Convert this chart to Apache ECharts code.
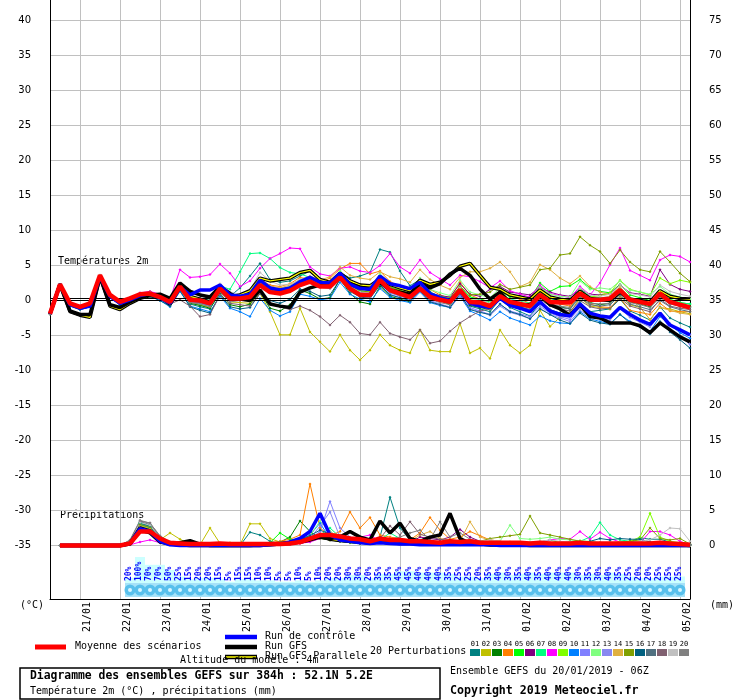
<!DOCTYPE html>
<html>
<head>
<meta charset="utf-8">
<title>GEFS 52.1N 5.2E</title>
<script src="https://cdn.jsdelivr.net/npm/echarts@6/dist/echarts.min.js"></script>
<style>
html, body { margin: 0; padding: 0; background: #fff; }
#chart { width: 740px; height: 700px; }
</style>
</head>
<body>
<div id="chart"></div>
<script>
// 6-hourly steps from 20/01 06Z to 05/02 06Z (65 steps), day labels at 00Z
var dayLabels = ['21/01','22/01','23/01','24/01','25/01','26/01','27/01','28/01','29/01','30/01','31/01','01/02','02/02','03/02','04/02','05/02'];

// temperature 2m (°C)
var tMean = [-1.9,2.3,-0.4,-0.9,-0.4,3.6,0.8,-0.2,0.3, 0.9,1.0,0.5,-0.2,2.0,0.1,0.0,-0.4,1.7,0.3,0.3,0.5, 2.2,1.2,1.0,1.4,2.2,2.7,2.0,2.0,3.3,1.7,0.8,0.8, 2.9,1.5,1.0,0.5,1.7,0.5,0.1,-0.2,1.5,-0.2,-0.3,-0.8, 0.6,-0.2,-0.5,-0.8,0.8,-0.2,-0.3,-0.3,1.0,0.1, 0.1,0.3,1.5,0.1,-0.2,-0.5,1.0,-0.2,-0.6,-1.0];
var tCtrl = [-1.9,2.3,-0.6,-1.1,-0.8,3.4,0.6,-0.4,0.1, 0.7,1.0,0.4,-0.4,1.9,0.8,1.5,1.5,2.2,0.8,0.6,0.9, 2.9,1.8,1.5,1.8,2.7,3.3,2.6,2.5,3.9,2.3,1.7,1.6, 3.5,2.4,2.1,1.7,2.6,1.0,0.4,0.0,1.4,-0.4,-0.8,-1.0, 0.3,-0.7,-1.1,-1.6,-0.2,-1.5,-2.0,-2.2,-0.5,-1.8, -2.2,-2.4,-1.0,-2.0,-2.8,-3.4,-1.8,-3.5,-4.2,-4.9];
var tGfs = [-1.9,2.3,-1.5,-2.0,-2.0,3.4,-0.6,-1.0,-0.2, 0.4,0.8,0.9,0.3,2.5,1.3,0.8,0.5,2.0,1.0,0.2,0.0, 1.5,-0.5,-0.8,-1.0,1.2,1.8,2.2,2.3,3.6,2.4,1.9,1.6, 2.6,1.5,1.2,0.9,2.5,1.8,2.4,3.8,4.6,3.6,1.6,0.2, 1.2,-0.3,-0.6,-0.6,0.8,-0.6,-1.2,-2.1,-0.6,-2.3, -2.5,-3.2,-3.2,-3.2,-3.6,-4.6,-3.2,-4.2,-5.2,-5.9];
var tGfsPara = [-1.9,2.3,-1.6,-2.1,-2.4,3.4,-0.8,-1.3,-0.4, 0.3,0.7,0.6,-0.5,2.0,0.6,0.2,-0.2,1.8,0.5,0.8,1.4, 3.2,2.8,3.0,3.2,4.0,4.3,3.0,2.6,3.9,2.8,2.2,2.1, 3.1,2.3,1.8,1.4,2.9,2.3,2.6,3.6,4.9,5.3,3.6,1.9, 1.6,0.8,0.5,0.2,1.5,0.5,0.2,0.0,1.3,0.3, 0.1,0.0,1.2,0.2,0.0,-0.2,1.4,0.6,0.3,0.2];

var t01 = [-1.9,2.3,-0.6,-1.1,-0.6,3.4,0.6,-0.4,0.2, 0.8,1.2,0.6,-0.5,1.6,-0.5,-0.9,-1.2,1.2,0.6,1.8,3.5, 5.3,3.0,2.6,2.8,3.5,4.2,3.1,2.5,4.0,3.2,3.5,4.0, 7.3,6.9,4.2,2.1,3.0,1.2,0.3,-0.4,1.2,-0.8,-1.2,-1.6, 0.2,-1.0,-1.6,-2.2,-0.4,-1.3,-1.8,-2.2,-0.3,-1.6, -1.4,-1.2,0.2,-1.5,-2.1,-2.8,-0.9,-2.5,-3.2,-3.8];
var t02 = [-1.9,2.3,-0.5,-1.0,-0.5,3.5,0.7,-0.3,0.2, 0.7,0.9,0.4,-0.6,1.5,-0.3,-0.6,-1.0,1.3,-0.2,-0.3,-0.4, 1.0,-1.6,-4.9,-4.9,-1.1,-4.5,-5.9,-7.3,-4.9,-7.1,-8.5,-7.1, -4.9,-6.4,-7.1,-7.5,-4.2,-7.1,-7.3,-7.3,-3.3,-7.5,-6.8,-8.3, -4.2,-6.4,-7.5,-6.4,-1.4,-3.7,-2.4,-1.8,0.4,-0.8, -1.0,-1.2,0.6,-0.6,-1.0,-2.7,-1.0,-1.2,-1.6,-1.9];
var t03 = [-1.9,2.3,-0.7,-1.2,-0.8,3.3,0.5,-0.5,0.1, 0.6,0.9,0.2,-0.7,1.8,-0.4,-0.7,-1.1,1.0,-0.6,-0.9,-0.5, 1.2,-1.1,-1.5,-0.6,1.5,1.0,0.2,0.4,3.1,1.0,-0.2,-0.5, 2.0,0.6,0.2,-0.2,1.9,0.4,0.0,-0.6,1.2,-0.7,-1.0,-1.3, 0.3,-0.8,-1.2,-1.5,0.5,-0.6,-0.9,-1.2,0.8,-0.3, -0.6,-0.4,1.0,-0.2,-0.5,-0.9,0.6,-0.4,-0.8,-0.9];
var t04 = [-1.9,2.3,-0.5,-1.0,-0.6,3.5,0.7,-0.3,0.3, 0.9,1.3,0.6,-0.3,2.2,0.3,0.1,-0.3,2.1,0.5,0.6,0.8, 3.0,2.2,2.0,2.4,3.3,3.0,2.6,3.2,4.5,5.3,5.3,3.8, 4.2,2.7,2.0,1.2,3.0,1.6,0.8,0.3,2.6,0.8,0.2,-0.2, 1.5,0.6,0.2,-0.4,1.2,0.0,-0.5,-0.8,0.7,-0.5, -0.9,-1.0,0.3,-1.4,-1.7,-2.0,-0.4,-1.5,-1.6,-1.6];
var t05 = [-1.9,2.3,-0.6,-1.1,-0.7,3.4,0.5,-0.3,0.2, 0.8,1.1,0.4,-0.5,2.0,-0.2,-0.5,-0.8,1.5,0.2,0.5,0.8, 2.8,1.8,1.4,1.8,2.9,3.3,2.6,2.4,4.0,2.3,1.6,1.5, 3.6,2.4,1.8,1.2,2.6,1.2,0.6,0.2,2.0,0.5,0.2,-0.2, 1.4,0.5,0.6,0.3,2.5,1.3,2.0,2.1,3.0,1.8, 1.3,1.1,2.3,0.8,0.4,0.0,1.4,0.2,-0.3,-0.5];
var t06 = [-1.9,2.3,-0.4,-0.9,-0.5,3.6,0.8,-0.2,0.3, 1.0,1.2,0.8,0.1,2.3,0.5,0.3,-0.1,1.9,0.6,0.5,0.7, 2.5,1.6,1.3,1.6,2.5,2.9,2.3,2.1,3.5,1.9,1.2,1.0, 3.0,1.8,1.2,0.8,2.0,1.0,0.7,0.5,2.4,0.9,0.6,1.6, 2.0,1.2,1.0,0.8,1.9,1.2,0.8,0.6,1.6,0.9, 0.8,1.0,2.2,1.1,0.9,0.6,4.4,2.3,1.6,1.3];
var t07 = [-1.9,2.3,-0.5,-1.0,-0.5,3.5,0.8,-0.1,0.3, 0.9,1.2,0.7,0.0,2.2,0.4,0.3,0.0,2.1,1.6,4.1,6.7, 6.8,6.0,4.7,4.0,3.8,3.3,2.5,2.3,3.6,2.0,1.3,1.2, 3.2,1.9,1.4,0.9,2.7,1.1,0.6,0.3,1.9,0.4,0.1,-0.3, 1.1,0.2,-0.1,-0.4,1.4,0.3,0.0,-0.2,1.6,0.6, 0.4,0.5,1.8,0.4,0.1,-0.2,1.3,0.1,-0.3,-0.5];
var t08 = [-1.9,2.3,-0.4,-0.8,-0.4,3.6,0.9,-0.1,0.4, 1.1,1.3,0.9,0.2,4.4,3.3,3.4,3.7,5.2,3.9,2.0,2.8, 4.6,6.0,6.7,7.5,7.4,4.8,3.8,3.5,4.6,4.8,4.2,4.0, 5.0,6.7,4.8,3.9,5.8,4.0,3.1,2.2,3.6,3.4,2.7,1.8, 2.8,1.4,0.9,0.5,2.2,1.0,0.7,0.4,2.0,0.8, 2.5,5.1,7.5,4.3,3.6,2.9,5.8,6.5,6.3,5.5];
var t09 = [-1.9,2.3,-0.6,-1.1,-0.6,3.4,0.6,-0.3,0.2, 0.7,1.0,0.5,-0.4,1.9,0.1,-0.1,-0.5,1.7,0.2,0.3,0.6, 2.6,1.7,1.5,1.9,2.7,3.2,2.5,2.3,3.9,2.1,1.4,1.3, 3.4,2.0,1.5,1.0,2.4,0.9,0.4,0.0,1.7,0.2,-0.2,-0.5, 1.0,0.0,-0.3,-0.6,1.2,0.1,-0.2,-0.3,1.5,0.5, 0.7,1.1,2.9,1.6,1.2,0.8,3.2,2.4,2.9,2.6];
var t10 = [-1.9,2.3,-0.7,-1.3,-0.9,3.2,0.4,-0.6,0.0, 0.5,0.6,0.0,-0.9,1.3,-0.8,-1.2,-1.6,0.6,-1.1,-1.6,-2.3, 0.3,-1.4,-2.2,-1.6,0.9,0.6,0.1,0.3,2.6,0.9,0.2,-0.2, 1.7,0.5,0.0,-0.3,1.2,-0.3,-0.7,-1.0,0.6,-1.5,-2.1,-2.8, -1.6,-2.5,-3.0,-3.5,-2.2,-2.9,-3.2,-3.3,-1.6,-2.6, -3.0,-3.3,-2.0,-3.0,-3.6,-4.4,-2.3,-3.5,-4.6,-5.4];
var t11 = [-1.9,2.3,-0.6,-1.0,-0.6,3.5,0.6,-0.4,0.1, 0.6,0.8,0.3,-0.5,1.6,-0.2,-0.4,-0.8,1.3,0.1,0.4,0.9, 2.9,2.0,1.6,1.8,2.6,3.0,2.2,2.0,3.4,1.6,0.8,0.5, 2.5,1.1,0.6,0.2,1.5,0.0,-0.5,-0.9,0.8,-1.0,-1.5,-2.0, -0.6,-1.5,-1.9,-2.3,-0.8,-1.8,-2.3,-2.7,-1.0,-2.0, -2.4,-2.6,-1.0,-2.2,-2.8,-3.5,-1.8,-4.1,-5.0,-6.3];
var t12 = [-1.9,2.3,-0.5,-0.9,-0.5,3.6,0.7,-0.2,0.3, 1.0,1.1,0.6,-0.2,2.1,0.2,0.0,-0.3,1.8,0.4,0.5,0.9, 3.0,1.9,1.7,2.0,2.8,3.3,2.7,2.6,4.3,2.5,1.8,1.6, 3.8,2.4,1.9,1.3,3.2,1.6,1.1,0.7,2.9,1.2,0.8,0.4, 1.8,0.8,0.6,0.2,1.9,0.9,0.6,0.5,2.8,1.6, 1.8,1.6,2.8,1.5,1.2,0.9,2.0,0.9,0.5,0.2];
var t13 = [-1.9,2.3,-0.7,-1.2,-0.7,3.3,0.5,-0.5,0.1, 0.6,0.8,0.2,-0.6,1.7,-0.2,-0.4,-0.7,1.4,0.0,0.2,0.5, 2.4,1.4,1.1,1.5,2.3,2.8,2.0,1.8,3.2,1.4,0.6,0.4, 2.3,0.9,0.4,0.0,1.3,-0.1,-0.6,-1.0,0.6,-1.2,-1.6,-2.1, -0.8,-1.7,-2.1,-2.6,-1.1,-2.0,-2.5,-3.0,-1.4,-2.3, -2.6,-2.8,-1.2,-2.4,-3.1,-3.8,-2.0,-3.3,-4.3,-4.9];
var t14 = [-1.9,2.3,-0.5,-1.0,-0.5,3.5,0.7,-0.2,0.3, 0.9,1.1,0.6,-0.2,2.1,0.2,0.1,-0.2,1.9,0.5,0.6,1.0, 3.1,2.1,1.8,2.2,3.0,3.5,2.9,3.4,4.8,3.6,3.2,3.0, 4.1,3.4,3.1,2.6,4.4,3.0,2.2,1.6,3.3,4.1,4.1,4.6, 5.5,4.1,2.0,2.6,5.1,4.4,3.2,2.4,3.5,2.0, 1.2,0.8,1.9,0.3,-1.0,-2.7,-1.0,-1.4,-1.8,-2.0];
var t15 = [-1.9,2.3,-0.5,-1.0,-0.6,3.5,0.6,-0.3,0.2, 0.8,1.0,0.5,-0.3,1.9,0.1,-0.1,-0.4,1.7,0.3,0.4,0.7, 2.7,1.8,1.5,1.9,2.8,3.2,2.5,2.3,3.8,2.1,1.4,1.2, 3.3,1.9,1.4,0.9,2.3,1.0,0.6,0.3,2.0,0.8,0.9,1.2, 2.3,1.6,1.9,2.2,4.4,4.6,6.5,6.7,9.1,7.9, 7.0,5.3,7.2,5.5,4.4,4.1,7.0,5.5,3.9,2.7];
var t16 = [-1.9,2.3,-0.8,-1.3,-0.9,3.2,0.4,-0.6,-0.1, 0.4,0.6,0.0,-0.8,1.4,-0.9,-1.4,-1.8,0.8,-0.9,-1.2,-1.0, 1.0,0.0,-0.4,0.2,1.6,1.3,0.6,0.8,3.0,1.3,0.5,0.3, 2.2,0.8,0.4,0.0,1.4,-0.2,-0.6,-1.0,0.9,-1.3,-1.7,-2.0, -0.5,-1.6,-2.0,-2.6,-1.2,-2.0,-2.8,-3.3,-1.8,-2.8, -3.2,-3.4,-2.0,-3.2,-3.8,-4.8,-3.0,-4.5,-5.6,-6.8];
var t17 = [-1.9,2.3,-0.6,-1.1,-0.7,3.4,0.6,-0.4,0.2, 0.7,0.9,0.4,-0.4,1.8,-0.1,-0.3,-0.7,1.5,0.0,0.2,0.4, 2.5,1.5,1.2,1.6,2.4,2.9,2.2,2.0,3.4,1.7,1.0,0.9, 2.9,1.5,1.0,0.6,1.8,0.4,-0.1,-0.4,1.2,-0.3,-0.7,-1.1, 0.3,-0.6,-0.9,-1.3,0.2,-0.7,-1.0,-1.2,0.4,-0.6, -0.8,-0.6,0.7,-0.5,-0.9,-1.3,0.0,-0.9,-1.3,-1.6];
var t18 = [-1.9,2.3,-0.6,-1.1,-0.6,3.4,0.6,-0.4,0.2, 0.7,0.8,0.3,-0.5,0.1,-0.8,-2.3,-2.0,0.8,-0.4,-0.6,-0.8, 1.0,-0.3,-0.9,-1.3,-0.8,-1.4,-2.3,-3.5,-2.1,-3.1,-4.7,-4.9, -3.1,-4.7,-5.2,-5.6,-4.2,-6.1,-5.8,-4.4,-3.2,-2.3,-1.5,-1.2, 0.4,-0.6,-1.0,-1.3,0.2,-0.8,-1.2,-1.5,0.0,-0.9, -1.2,-1.1,0.3,-0.8,-1.2,-1.6,0.2,-0.8,-1.1,-1.3];
var t19 = [-1.9,2.3,-0.5,-1.0,-0.5,3.5,0.7,-0.2,0.3, 0.9,1.0,0.5,-0.3,2.0,1.5,1.0,0.4,2.4,1.2,0.9,1.5, 4.0,2.8,2.2,2.3,3.0,3.4,2.6,2.4,3.7,2.0,1.2,1.1, 3.0,1.7,1.2,0.8,2.2,0.8,0.4,0.1,1.8,0.3,0.0,-0.3, 1.0,0.1,-0.2,-0.5,1.3,0.4,0.2,0.0,1.8,0.8, 0.6,0.9,2.2,1.0,0.8,0.5,2.2,1.3,0.9,0.6];
var t20 = [-1.9,2.3,-0.6,-1.0,-0.6,3.4,0.6,-0.3,0.2, 0.7,0.8,0.3,-0.5,1.6,-0.3,-0.5,-0.9,1.2,-0.2,0.0,0.3, 2.3,1.3,1.0,1.4,2.2,2.6,1.9,1.7,3.1,1.4,0.6,0.5, 2.6,1.2,0.7,0.3,1.6,0.2,-0.3,-0.6,1.0,-0.5,-0.8,-1.2, 0.2,-0.6,-0.8,-1.1,0.4,-0.5,-0.8,-1.0,0.6,-0.4, -0.5,-0.4,0.9,-0.3,-0.6,-1.0,0.4,-0.5,-0.8,-1.0];

// precipitation (mm per 6h), none at the first step
var rMean = [null, 0,0,0,0,0,0,0, 0.3,2.0,2.0,1.0,0.4, 0.3,0.2,0.2,0.2,0.3,0.2,0.2,0.2,0.2,0.2,0.2,0.3, 0.5,1.0,1.5,1.5,1.3,1.0,0.9,0.6, 1.0,0.8,0.8,0.6,0.6,0.5,0.4,0.6,0.5,0.6,0.4,0.4, 0.4,0.4,0.4,0.3,0.4,0.3,0.3,0.3,0.4,0.3, 0.3,0.3,0.3,0.3,0.3,0.3,0.4,0.3,0.2,0.1];
var rCtrl = [null, 0,0,0,0,0,0,0, 0.3,2.4,2.0,0.6,0.1, 0,0,0,0,0,0,0,0,0,0.1,0.2,0.5, 1.0,2.0,4.6,1.5,0.8,0.6,0.4,0.3, 0.4,0.3,0.2,0.2,0.1,0.1,0.1,0.1,0.1,0.1,0.1,0.1, 0,0,0,0,0,0,0,0,0,0, 0,0,0,0,0,0,0,0,0,0];
var rGfs = [null, 0,0,0,0,0,0,0, 0.2,2.2,1.8,0.5,0.2, 0.4,0.7,0.2,0,0,0,0,0,0,0.1,0.2,0.3, 0.5,0.8,1.2,1.0,1.2,2.0,1.2,0.8, 3.5,1.8,3.2,1.0,0.6,1.2,1.5,4.6,1.0,0.3,0.2,0.1, 0.1,0.1,0.1,0,0,0,0,0,0,0, 0,0,0,0,0,0,0,0,0,0];
var rGfsPara = [null, 0,0,0,0,0,0,0, 0.3,2.5,2.1,0.7,0.2, 0.1,0,0,0,0,0,0,0,0.1,0.2,0.3,0.4, 0.6,1.0,1.3,0.9,0.7,0.6,0.5,0.4, 0.5,0.4,0.3,0.3,0.3,0.2,0.2,0.2,0.2,0.2,0.2,0.1, 0.1,0.1,0.1,0.1,0.1,0.1,0.1,0.1,0.1,0.1, 0.1,0.1,0.1,0.1,0.1,0.1,0.1,0.1,0.1,0.0];

var r01 = [null, 0,0,0,0,0,0,0, 0.4,3.3,2.6,1.2,0.2, 0.1,0,0,0.1,0.2,0,0,1.9,1.5,0.6,0.3,0.2, 0.4,0.8,1.2,2.0,1.0,0.8,0.5,0.4, 1.2,6.9,2.5,0.8,0.5,0.4,0.5,0.4,0.3,0.2,0.3,0.2, 0.2,0.3,0.2,0.1,0.2,0.1,0.1,0.3,0.5,0.4, 0.2,0.1,0.3,0.5,1.1,0.9,0.9,0.5,0.2,0.1];
var r02 = [null, 0,0,0,0,0,0,0, 0.5,2.6,2.2,0.8,1.8, 0.9,0.2,0.1,2.5,0.3,0.4,0.1,3.1,3.1,1.0,0.5,0.4, 0.3,0.6,1.0,0.8,0.6,0.4,0.3,0.2, 0.4,0.6,0.8,0.5,0.4,0.3,0.2,0.3,0.5,0.4,0.3,0.2, 0.2,0.3,0.4,0.2,0.3,0.2,0.1,0.2,0.3,0.2, 0.1,0.2,0.2,0.3,0.2,0.1,0.2,0.2,0.1,0.0];
var r03 = [null, 0,0,0,0,0,0,0, 0.3,2.8,2.5,1.0,0.2, 0.1,0,0,0,0.1,0,0,0,0.2,0.3,0.5,1.2, 3.5,2.0,1.0,0.8,0.6,0.4,0.3,0.3, 0.5,0.8,0.6,0.4,0.3,0.2,0.3,0.2,0.1,0.2,0.1,0.1, 0.1,0.2,0.1,0.1,0.2,0.1,0.1,0.1,0.2,0.1, 0.1,0.1,0.2,0.1,0.1,0.1,0.2,0.1,0.1,0.0];
var r04 = [null, 0,0,0,0,0,0,0, 0.4,3.0,2.7,1.1,0.3, 0.1,0,0.1,0,0.2,0.1,0,0.1,0.3,0.4,0.6,0.9, 1.5,8.8,2.5,1.4,2.0,4.8,2.5,4.0, 1.5,1.2,1.0,0.8,1.8,4.0,2.2,0.9,1.2,2.0,1.4,0.8, 0.6,0.5,0.4,0.3,0.3,0.2,0.2,0.3,0.2,0.2, 0.2,0.1,0.2,0.2,0.1,0.1,0.2,0.1,0.1,0.0];
var r05 = [null, 0,0,0,0,0,0,0, 0.5,3.1,2.4,0.9,0.2, 0,0,0,0.1,0,0,0,0.1,0.2,0.4,1.8,0.9, 0.8,1.2,1.6,1.0,0.7,0.9,0.5,0.6, 0.7,0.5,0.4,0.6,0.5,0.3,0.4,0.3,0.2,0.3,0.4,0.3, 0.3,0.2,0.3,0.2,0.5,0.8,0.4,0.3,0.2,0.3, 0.2,0.3,0.2,0.1,0.2,0.3,0.2,0.1,0.1,0.0];
var r06 = [null, 0,0,0,0,0,0,0, 0.3,2.5,2.0,0.7,0.1, 0,0,0,0,0,0,0,0,0.1,0.1,0.2,0.3, 0.5,0.9,1.2,0.8,0.6,1.0,0.8,0.6, 0.8,0.6,0.5,0.4,1.2,1.0,0.8,1.2,2.3,1.2,0.6,0.5, 0.4,0.3,0.2,0.3,0.2,0.2,0.3,0.2,0.2,0.1, 0.1,0.2,0.1,0.2,0.1,0.1,0.2,0.1,0.1,0.0];
var r07 = [null, 0,0,0,0,0,0,0, 0.6,3.2,2.8,1.0,0.3, 0.1,0,0,0,0.1,0,0,0,0.1,0.2,0.2,0.3, 0.6,0.9,1.5,2.5,1.2,0.8,0.6,0.5, 0.8,1.8,1.0,0.6,0.4,0.3,0.2,0.3,0.2,0.3,0.2,0.3, 0.2,0.3,0.2,0.1,0.2,0.2,0.3,0.4,0.6,1.2, 3.3,1.5,0.8,0.6,0.5,0.4,0.3,0.3,0.2,0.1];
var r08 = [null, 0,0,0,0,0,0,0, 0.1,0.5,0.8,0.4,0.2, 0.1,0,0,0,0.3,0,0,0,0.1,0.1,0.2,0.2, 0.3,0.5,1.0,1.8,0.8,0.5,1.2,1.5, 0.6,0.8,0.9,0.5,0.4,0.3,0.2,0.2,0.3,0.4,0.3,0.2, 0.2,0.3,0.2,0.3,0.5,0.8,1.0,0.9,2.0,0.9, 1.9,1.0,0.5,0.4,0.3,2.0,2.0,1.5,0.6,0.1];
var r09 = [null, 0,0,0,0,0,0,0, 0.4,2.9,2.5,0.9,0.2, 0.1,0,0,0,0.1,0,0,0,0.2,0.3,0.2,0.4, 0.6,1.0,1.4,0.8,0.6,0.5,0.4,0.3, 0.5,0.4,0.3,0.3,0.4,0.3,0.2,0.2,0.3,0.2,0.3,0.2, 0.2,0.3,0.5,0.4,0.3,0.4,0.3,0.2,0.3,0.4, 0.3,0.4,0.5,0.6,1.2,4.6,1.2,0.6,0.4,0.1];
var r10 = [null, 0,0,0,0,0,0,0, 0.5,3.0,2.6,1.0,0.1, 0,0,0,0,0,0,0,0,0.1,0.1,0.2,0.4, 0.8,1.5,3.2,1.0,0.6,0.5,1.2,0.5, 0.6,0.4,0.3,0.3,0.2,0.2,0.2,0.1,0.2,0.1,0.2,0.1, 0.1,0.2,0.1,0.1,0.1,0.1,0.2,0.1,0.1,0.1, 0.1,0.1,0.1,0.1,0.1,0.1,0.1,0.1,0.1,0.0];
var r11 = [null, 0,0,0,0,0,0,0, 0.4,2.7,2.3,0.9,0.3, 0.2,0,0,0,0.1,0,0,0,0.1,0.2,0.4,0.5, 0.7,1.0,2.0,6.3,2.5,1.2,0.8,0.6, 0.7,0.8,0.5,0.4,0.3,0.3,0.2,0.2,0.2,0.3,0.2,0.2, 0.2,0.2,0.1,0.2,0.1,0.1,0.2,0.1,0.1,0.1, 0.1,0.1,0.1,0.2,0.1,0.1,0.1,0.1,0.1,0.0];
var r12 = [null, 0,0,0,0,0,0,0, 0.6,3.2,2.9,1.2,0.3, 0.1,0,0,0,0.1,0,0,0,0.2,0.3,0.5,0.6, 0.8,1.4,3.5,2.0,1.0,0.8,0.6,0.5, 0.7,0.6,0.5,0.4,0.3,0.3,0.4,0.3,0.4,0.5,0.3,0.4, 0.6,2.9,1.0,0.9,1.0,1.2,0.9,0.8,0.7,0.6, 0.4,0.3,0.5,0.3,0.2,0.3,0.2,0.2,0.1,0.0];
var r13 = [null, 0,0,0,0,0,0,0, 0.3,2.6,2.1,0.8,0.2, 0.1,0,0,0,0,0,0,0,0.1,0.2,0.3,0.4, 0.5,1.0,2.8,4.8,1.2,0.8,0.9,0.6, 0.9,0.6,0.4,0.3,0.3,0.2,0.2,0.2,0.1,0.2,0.1,0.1, 0.1,0.1,0.1,0.1,0.1,0.1,0.1,0.1,0.1,0.1, 0.1,0.1,0.1,0.1,0.1,0.1,0.1,0.1,0.1,0.0];
var r14 = [null, 0,0,0,0,0,0,0, 0.4,2.8,2.4,0.9,0.4, 0.2,0.1,0,0.1,0.2,0,0,0.1,0.2,0.3,0.4,0.5, 0.7,1.0,1.2,1.8,1.5,1.0,0.8,0.6, 0.8,0.6,0.5,0.6,1.5,2.0,1.0,0.8,0.6,3.4,1.2,0.8, 0.6,0.4,0.3,0.2,0.3,0.2,0.2,0.3,0.2,0.2, 0.2,0.1,0.2,0.1,0.1,0.1,0.2,0.1,0.1,0.0];
var r15 = [null, 0,0,0,0,0,0,0, 0.5,3.0,2.6,1.0,0.3, 0.1,0,0,0,0.1,0,0,0,0.1,0.2,0.3,0.4, 0.5,0.8,1.2,0.9,0.7,0.6,0.5,0.4, 0.5,0.4,0.4,0.3,0.3,0.2,0.2,0.2,0.3,0.4,0.6,1.0, 1.2,1.4,1.6,4.2,1.8,1.5,1.2,0.9,0.6,0.5, 0.4,0.3,0.5,0.6,0.8,2.5,1.0,0.8,1.0,0.2];
var r16 = [null, 0,0,0,0,0,0,0, 0.5,3.2,2.8,1.1,0.2, 0.1,0,0,0,0.1,0,0,0,0.2,0.3,0.4,0.6, 0.9,1.4,2.2,1.6,1.2,0.8,0.6,0.4, 0.5,0.6,0.4,0.3,0.3,0.2,0.2,0.3,0.2,0.2,0.2,0.3, 0.3,0.4,0.3,0.2,0.3,0.3,0.4,0.5,0.4,0.6, 1.0,0.8,1.0,0.9,0.9,0.5,0.3,0.2,0.2,0.1];
var r17 = [null, 0,0,0,0,0,0,0, 0.6,3.4,3.0,1.2,0.3, 0.2,0,0,0,0.1,0,0,0,0.1,0.2,0.3,0.5, 0.8,1.2,1.6,1.2,0.9,0.7,0.5,0.4, 0.6,0.5,0.4,0.3,0.3,0.2,0.3,0.2,0.2,0.2,0.2,0.3, 0.2,0.2,0.3,0.2,0.2,0.3,0.2,0.2,0.3,0.2, 0.2,0.2,0.3,0.2,0.2,0.2,0.3,0.2,0.2,0.1];
var r18 = [null, 0,0,0,0,0,0,0, 0.7,3.5,3.2,1.3,0.4, 0.2,0.1,0,0,0.1,0,0,0,0.1,0.2,0.3,0.5, 0.8,1.1,1.4,1.0,0.8,0.9,1.2,0.8, 1.0,2.8,1.5,3.4,1.6,1.2,0.9,0.7,0.6,0.5,0.4,0.3, 0.3,0.3,0.2,0.2,0.3,0.2,0.2,0.2,0.3,0.2, 0.2,0.3,0.2,0.2,0.2,0.2,0.2,0.2,0.2,0.1];
var r19 = [null, 0,0,0,0,0,0,0, 0.5,3.3,2.9,1.1,0.3, 0.1,0,0,0,0.1,0,0,0,0.1,0.2,0.3,0.4, 0.6,0.9,1.2,0.9,0.7,0.6,0.5,0.4, 0.5,0.4,0.4,0.3,0.3,0.3,0.2,0.2,0.3,0.4,0.6,0.8, 0.6,0.5,0.4,0.5,0.6,0.8,0.6,0.5,0.4,0.3, 0.3,0.4,0.5,0.4,0.6,0.8,1.5,2.5,2.4,0.6];
var r20 = [null, 0,0,0,0,0,0,0, 0.8,3.6,3.2,1.4,0.5, 0.2,0.1,0,0,0.1,0,0,0,0.1,0.2,0.3,0.4, 0.6,0.9,1.4,1.0,0.8,0.7,0.5,0.5, 0.7,0.9,1.2,1.8,2.2,0.8,3.4,1.2,1.8,0.9,0.6,0.5, 0.4,0.4,0.3,0.3,0.4,0.3,0.3,0.3,0.4,0.3, 0.3,0.4,0.3,0.3,0.3,0.3,0.4,0.3,0.2,0.1];

// probability of precipitation (%)
var probRain = [null,null,null,null,null,null,null,null, 20,100,70,70,50,25,15,20,20,15,5,15,15,10,10,5,5,10,5,10,20,20,30,30,20,35,35,45,45,40,40,40,35,25,25,20,35,40,30,35,40,35,40,40,40,30,35,30,40,35,25,20,20,25,25,25, null];

var memberTemp = [t01,t02,t03,t04,t05,t06,t07,t08,t09,t10,t11,t12,t13,t14,t15,t16,t17,t18,t19,t20];
var memberRain = [r01,r02,r03,r04,r05,r06,r07,r08,r09,r10,r11,r12,r13,r14,r15,r16,r17,r18,r19,r20];
var memberColors = ['#008080','#c0c000','#008000','#ff8000','#00ff00','#800080','#00ff80','#ff00ff','#80ff00','#0080ff',
                    '#8080ff','#80ff80','#8888f0','#e0b040','#80a000','#006080','#507080','#806070','#c0c0c0','#808080'];

var MONO = '"DejaVu Sans Mono", monospace';

var cats = [];
for (var i = 0; i < tMean.length; i++) {
    var h = 6 + 6 * i;
    cats.push(h % 24 === 0 ? dayLabels[h / 24 - 1] : '');
}
function isDay(idx) { return idx % 4 === 3; }

var probData = [];
probRain.forEach(function (p, i) { if (p !== null) probData.push([i, p]); });

var chart = echarts.init(document.getElementById('chart'));

var series = [];
memberTemp.forEach(function (d, k) {
    var s = {
        type: 'line', xAxisIndex: 0, yAxisIndex: 0, data: d,
        symbol: 'diamond', symbolSize: 3, color: memberColors[k],
        lineStyle: {width: 1}, z: 2, silent: true
    };
    if (k === 0) {
        // double freezing line
        s.markLine = {
            silent: true, symbol: 'none', label: {show: false},
            lineStyle: {color: '#000', width: 1, type: 'solid'},
            data: [{yAxis: 0.32}, {yAxis: 0}]
        };
    }
    series.push(s);
    series.push({
        type: 'line', xAxisIndex: 0, yAxisIndex: 1, data: memberRain[k],
        symbol: 'diamond', symbolSize: 3, color: memberColors[k],
        lineStyle: {width: 1}, z: 2, silent: true
    });
});

function thick(data, yIdx, color, w, z) {
    return {type: 'line', xAxisIndex: 0, yAxisIndex: yIdx, data: data, symbol: 'none',
            color: color, lineStyle: {width: w, color: color}, z: z, silent: true};
}
series.push(thick(tGfsPara, 0, '#000', 3.5, 3));
series.push(thick(tGfsPara, 0, '#ffff00', 1.2, 3));
series.push(thick(rGfsPara, 1, '#000', 3.5, 3));
series.push(thick(rGfsPara, 1, '#ffff00', 1.2, 3));
series.push(thick(tGfs, 0, '#000', 3.5, 4));
series.push(thick(rGfs, 1, '#000', 3.5, 4));
series.push(thick(tCtrl, 0, '#0000ff', 3.5, 5));
series.push(thick(rCtrl, 1, '#0000ff', 3.5, 5));
series.push(thick(tMean, 0, '#ff0000', 4.5, 6));
series.push(thick(rMean, 1, '#ff0000', 4.5, 6));

// probability row + precipitation-type band
series.push({
    type: 'custom', xAxisIndex: 0, yAxisIndex: 2, data: probData, z: 7, silent: true,
    renderItem: function (params, api) {
        var i = api.value(0), p = api.value(1);
        var base = api.coord([i, 0]);
        var top = api.coord([i, p]);
        var w = api.size([1, 0])[0];
        return {
            type: 'group',
            children: [
                {type: 'rect', shape: {x: base[0] - w / 2, y: top[1], width: w, height: base[1] - top[1]},
                 style: {fill: '#ccffff'}},
                {type: 'rect', shape: {x: base[0] - w / 2, y: base[1], width: w, height: 14},
                 style: {fill: '#a6e2f8'}},
                {type: 'circle', shape: {cx: base[0], cy: base[1] + 7, r: 5.5}, style: {fill: '#58c0ec'}},
                {type: 'circle', shape: {cx: base[0], cy: base[1] + 7, r: 2}, style: {fill: '#d8f6ff'}},
                {type: 'text', x: base[0] - 1.5, y: base[1] - 2, rotation: Math.PI / 2,
                 style: {text: p + '%', fill: '#0000ff', font: 'bold 8px ' + MONO, align: 'left', verticalAlign: 'middle'}}
            ]
        };
    }
});

var graphics = [
    {type: 'text', left: 20, top: 600, style: {text: '(°C)', font: '10px ' + MONO, fill: '#000'}},
    {type: 'text', left: 710, top: 600, style: {text: '(mm)', font: '10px ' + MONO, fill: '#000'}},
    {type: 'text', left: 58, top: 256, style: {text: 'Températures 2m', font: '10px ' + MONO, fill: '#000'}},
    {type: 'text', left: 60, top: 510, style: {text: 'Précipitations', font: '10px ' + MONO, fill: '#000'}},
    // legend
    {type: 'line', shape: {x1: 35, y1: 647, x2: 66, y2: 647}, style: {stroke: '#ff0000', lineWidth: 5}},
    {type: 'text', left: 75, top: 641, style: {text: 'Moyenne des scénarios', font: '10px ' + MONO, fill: '#000'}},
    {type: 'line', shape: {x1: 225, y1: 637, x2: 257, y2: 637}, style: {stroke: '#0000ff', lineWidth: 4.5}},
    {type: 'text', left: 265, top: 631, style: {text: 'Run de contrôle', font: '10px ' + MONO, fill: '#000'}},
    {type: 'line', shape: {x1: 225, y1: 647, x2: 257, y2: 647}, style: {stroke: '#000', lineWidth: 4.5}},
    {type: 'text', left: 265, top: 641, style: {text: 'Run GFS', font: '10px ' + MONO, fill: '#000'}},
    {type: 'line', shape: {x1: 225, y1: 657, x2: 257, y2: 657}, style: {stroke: '#000', lineWidth: 4.5}},
    {type: 'line', shape: {x1: 226, y1: 657, x2: 256, y2: 657}, style: {stroke: '#ffff00', lineWidth: 1.5}},
    {type: 'text', left: 265, top: 651, style: {text: 'Run GFS Parallele', font: '10px ' + MONO, fill: '#000'}},
    {type: 'text', left: 180, top: 655, style: {text: 'Altitude du modèle : 4m', font: '10px ' + MONO, fill: '#000'}},
    {type: 'text', left: 370, top: 646, style: {text: '20 Perturbations', font: '10px ' + MONO, fill: '#000'}},
    // title box
    {type: 'rect', shape: {x: 20, y: 668, width: 420, height: 31}, style: {fill: '#fff', stroke: '#000', lineWidth: 1.5}},
    {type: 'text', left: 30, top: 671, style: {text: 'Diagramme des ensembles GEFS sur 384h : 52.1N 5.2E', font: 'bold 11.4px ' + MONO, fill: '#000'}},
    {type: 'text', left: 30, top: 686, style: {text: 'Température 2m (°C) , précipitations (mm)', font: '10px ' + MONO, fill: '#000'}},
    {type: 'text', left: 450, top: 666, style: {text: 'Ensemble GEFS du 20/01/2019 - 06Z', font: '10px ' + MONO, fill: '#000'}},
    {type: 'text', left: 450, top: 685, style: {text: 'Copyright 2019 Meteociel.fr', font: 'bold 11.6px ' + MONO, fill: '#000'}}
];
memberColors.forEach(function (c, k) {
    var x = 470 + k * 11;
    graphics.push({type: 'rect', shape: {x: x, y: 649, width: 10, height: 7}, style: {fill: c}});
    graphics.push({type: 'text', x: x + 5, y: 644, style: {text: (k < 9 ? '0' : '') + (k + 1), font: '7px ' + MONO, fill: '#000', align: 'center', verticalAlign: 'middle'}});
});

var option = {
    animation: false,
    backgroundColor: '#fff',
    grid: [
        {left: 50, right: 50, top: 0, height: 599},
        {left: 50, right: 50, top: 20.5, height: 525}
    ],
    xAxis: [
        {
            gridIndex: 0, type: 'category', data: cats, boundaryGap: false,
            axisLine: {onZero: false, lineStyle: {color: '#000', width: 1}},
            axisTick: {show: false},
            axisLabel: {interval: isDay, rotate: 90, margin: 3, color: '#000',
                        fontFamily: MONO, fontSize: 10, verticalAlign: 'top', padding: [2, 0, 0, 0]},
            splitLine: {show: true, interval: isDay, lineStyle: {color: '#c0c0c0', width: 1}}
        },
        {gridIndex: 1, type: 'category', data: cats, boundaryGap: false, show: false}
    ],
    yAxis: [
        // temperature scale of the full frame
        {gridIndex: 0, type: 'value', min: -42.64, max: 42.93,
         axisLine: {show: true, lineStyle: {color: '#000', width: 1}},
         axisTick: {show: false}, axisLabel: {show: false}, splitLine: {show: false}},
        // precipitation (mm), 0 mm on -35 °C
        {gridIndex: 0, type: 'value', min: -7.64, max: 77.93, show: false},
        // probability row
        {gridIndex: 0, type: 'value', min: -61.5, max: 2242.3, show: false},
        // right frame line
        {gridIndex: 0, type: 'value', position: 'right', min: -42.64, max: 42.93,
         axisLine: {show: true, lineStyle: {color: '#000', width: 1}},
         axisTick: {show: false}, axisLabel: {show: false}, splitLine: {show: false}},
        // labelled scales
        {gridIndex: 1, type: 'value', min: -35, max: 40, interval: 5,
         axisLine: {show: false}, axisTick: {show: false},
         axisLabel: {margin: 19, color: '#000', fontFamily: 'DejaVu Sans', fontSize: 10},
         splitLine: {lineStyle: {color: '#c0c0c0', width: 1}}},
        {gridIndex: 1, type: 'value', position: 'right', min: 0, max: 75, interval: 5,
         axisLine: {show: false}, axisTick: {show: false},
         axisLabel: {margin: 19, color: '#000', fontFamily: 'DejaVu Sans', fontSize: 10},
         splitLine: {show: false}}
    ],
    series: series,
    graphic: graphics
};

chart.setOption(option);
</script>
</body>
</html>
